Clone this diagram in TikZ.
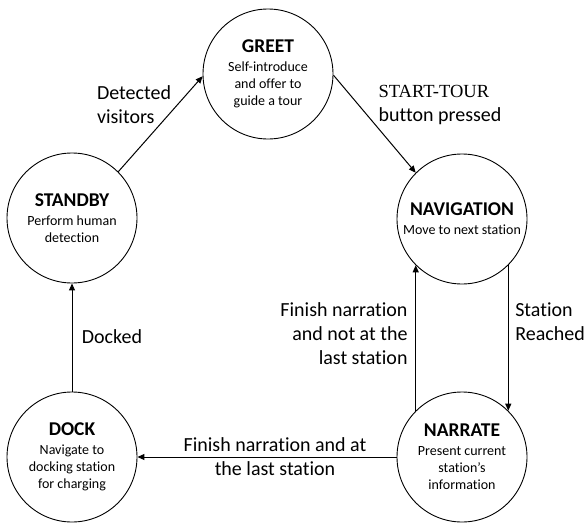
\documentclass[tikz,border=0pt]{standalone}
\usepackage{fontspec}
\setmainfont{Carlito}[Ligatures=NoCommon]
\newfontfamily\serifface{Liberation Serif}
\usetikzlibrary{arrows.meta}
\tikzset{
  state/.style={circle, draw, line width=0.9pt, minimum size=130pt, inner sep=0pt,
    align=center, font=\fontsize{14}{17}\selectfont},
  conn/.style={line width=1pt, -{Triangle[length=7pt,width=6pt]}},
  lbl/.style={inner sep=0pt, font=\fontsize{20}{24}\selectfont}
}
\newcommand{\stitle}[1]{{\fontsize{19.5}{21}\selectfont\bfseries #1}\\[2pt]}
\begin{document}
\begin{tikzpicture}[x=1pt, y=-1pt]
  \useasboundingbox (0,0) rectangle (586,522);

  % states
  \node[state] (greet)   at (268,74)  {\stitle{GREET}Self-introduce\\and offer to\\guide a tour};
  \node[state] (standby) at (72,218)  {\stitle{STANDBY}Perform human\\detection};
  \node[state] (nav)     at (462,219) {\stitle{NAVIGATION}Move to next station};
  \node[state] (dock)    at (72,457)  {\stitle{DOCK}Navigate to\\docking station\\for charging};
  \node[state] (narrate) at (462,457) {\stitle{NARRATE}Present current\\station’s\\information};

  % transitions
  \draw[conn] (standby.45) -- (greet.182);
  \draw[conn] (greet.-1) -- (nav.135);
  \draw[conn] (nav.-45) -- (narrate.45);
  \draw[conn] (narrate.135) -- (nav.225);
  \draw[conn] (narrate.180) -- (dock.0);
  \draw[conn] (dock.90) -- (standby.270);

  % transition labels
  \node[lbl, align=left]   (lvis)   at (134,105) {Detected\\visitors};
  \node[lbl, align=left]   (lstart) at (440,105) {{\serifface\fontsize{18.5}{24}\selectfont START-TOUR}\\button pressed};
  \node[lbl, align=left]   (lreach) at (550,322) {Station\\Reached};
  \node[lbl, align=right]  (lnot)   at (344,334) {Finish narration\\and not at the\\last station};
  \node[lbl, align=center] (llast)  at (275,457) {Finish narration and at\\the last station};
  \node[lbl]               (ldock)  at (112,337) {Docked};
\end{tikzpicture}
\end{document}
